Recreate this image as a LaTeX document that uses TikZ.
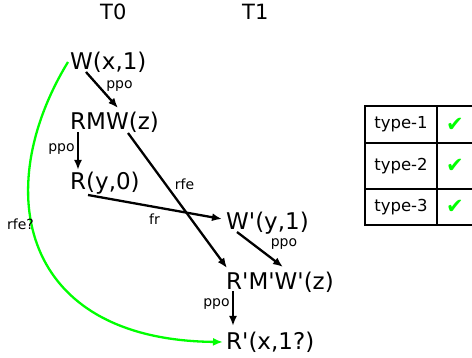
\documentclass[tikz,border=0pt]{standalone}
\usepackage{fontspec}
\setmainfont{DejaVu Sans}[Ligatures=TeXOff]
\usetikzlibrary{arrows.meta,calc}
\definecolor{arcgreen}{RGB}{0,255,0}
\begin{document}
\begin{tikzpicture}[
        x=1pt, y=-1pt,
        >={Latex[length=10pt,width=8pt]},
        event/.style={
        anchor=base west,
        inner sep=0pt,
        font=\fontsize{23}{27}\selectfont
      },
        thread/.style={
        anchor=base west,
        inner sep=0pt,
        font=\fontsize{21}{25}\selectfont
      },
        rel/.style={
        anchor=base,
        inner sep=0pt,
        font=\fontsize{14}{16}\selectfont
      },
        cell/.style={
        draw,
        line width=2.2pt,
        minimum width=72pt,
        inner sep=0pt,
        font=\fontsize{16.5}{19}\selectfont
      },
        tick/.style={
        draw,
        line width=2.2pt,
        minimum width=36pt,
        inner sep=0pt,
        text=arcgreen,
        font=\fontsize{21}{25}\selectfont
      },
      edge/.style={->, line width=2.3pt}
    ]

    \useasboundingbox (0,0) rectangle (472,358);

    \node[thread] (t0) at (100, 20) {T0};
    \node[thread] (t1) at (242, 20) {T1};

    \node[event] (wx)   at (70, 69.5)   {W(x,1)};
    \node[event] (rmw)  at (70, 129.5)  {RMW(z)};
    \node[event] (ry)   at (70, 189.5)  {R(y,0)};
    \node[event] (wy)   at (226, 229.5) {W'(y,1)};
    \node[event] (rmw2) at (226, 289.5) {R'M'W'(z)};
    \node[event] (rx)   at (226, 349.5) {R'(x,1?)};

    \draw[edge] ($(wx.base west)+(16,2.5)$) -- ($(rmw.base west)+(48,-21.5)$);
    \draw[edge] ($(rmw.base west)+(8,2.5)$) -- ($(ry.base west)+(8,-19.5)$);
    \draw[edge] ($(rmw.base west)+(58,3.5)$) -- ($(rmw2.base west)+(1,-21.5)$);
    \draw[edge] ($(ry.base west)+(18,5.5)$) -- ($(wy.base west)+(-4,-10.5)$);
    \draw[edge] ($(wy.base west)+(11,2.5)$) -- ($(rmw2.base west)+(57,-22.5)$);
    \draw[edge] ($(rmw2.base west)+(7,1.5)$) -- ($(rx.base west)+(7,-23.5)$);

    \draw[edge, arcgreen] ($(wx.base west)+(-2,-7.5)$)
      .. controls (-10,190) and (20,340) .. ($(rx.base west)+(-3,-7.5)$);

    \node[rel] (p1) at (119.5, 88.4) {ppo};
    \node[rel] (p2) at (61.5, 151.4) {ppo};
    \node[rel] (e1) at (184.5, 190) {rfe};
    \node[rel] (f1) at (154.5, 225) {fr};
    \node[rel] (e2) at (20.5, 230) {rfe?};
    \node[rel] (p3) at (284, 246.4) {ppo};
    \node[rel] (p4) at (216.5, 306.4) {ppo};

    \node[cell, minimum height=37pt] (ty1) at (401, 124.5) {type-1};
    \node[cell, minimum height=46pt] (ty2) at (401, 166) {type-2};
    \node[cell, minimum height=36pt] (ty3) at (401, 207) {type-3};

    \node[tick, minimum height=37pt] (c1) at (455, 124.5) {✔};
    \node[tick, minimum height=46pt] (c2) at (455, 166) {✔};
    \node[tick, minimum height=36pt] (c3) at (455, 207) {✔};

  \end{tikzpicture}
\end{document}
